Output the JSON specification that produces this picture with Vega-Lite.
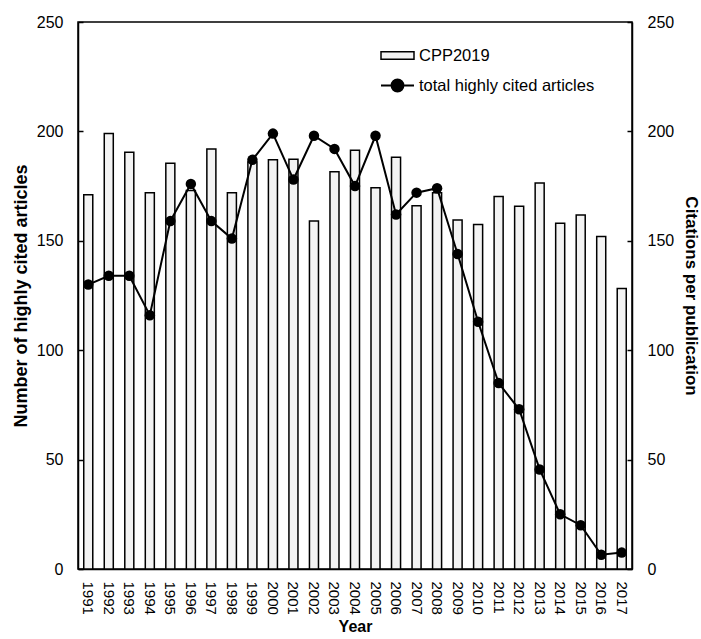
{
  "$schema": "https://vega.github.io/schema/vega-lite/v6.json",
  "width": 554,
  "height": 547,
  "autosize": {"type": "none"},
  "padding": {"left": 78, "top": 22, "right": 69, "bottom": 70},
  "background": "white",
  "config": {
    "font": "Liberation Sans",
    "view": {"stroke": "black", "strokeWidth": 1.5},
    "axis": {
      "grid": false,
      "domainColor": "black",
      "domainWidth": 1.5,
      "tickColor": "black",
      "tickWidth": 1.5,
      "labelColor": "black",
      "titleColor": "black",
      "labelFont": "Liberation Sans",
      "titleFont": "Liberation Sans",
      "labelFontSize": 16,
      "titleFontSize": 18,
      "titleFontWeight": "bold"
    },
    "legend": {
      "labelFont": "Liberation Sans",
      "labelFontSize": 16.5,
      "labelColor": "black",
      "labelLimit": 0,
      "padding": 0
    }
  },
  "data": {
    "values": [
      {"year": "1991", "cpp": 171, "total": 130},
      {"year": "1992", "cpp": 199, "total": 134},
      {"year": "1993", "cpp": 190.5, "total": 134},
      {"year": "1994", "cpp": 172, "total": 116},
      {"year": "1995", "cpp": 185.5, "total": 159},
      {"year": "1996", "cpp": 173, "total": 176},
      {"year": "1997", "cpp": 192, "total": 159},
      {"year": "1998", "cpp": 172, "total": 151},
      {"year": "1999", "cpp": 186, "total": 187},
      {"year": "2000", "cpp": 187, "total": 199},
      {"year": "2001", "cpp": 187.3, "total": 178},
      {"year": "2002", "cpp": 159, "total": 198},
      {"year": "2003", "cpp": 181.6, "total": 192},
      {"year": "2004", "cpp": 191.4, "total": 175},
      {"year": "2005", "cpp": 174.3, "total": 198},
      {"year": "2006", "cpp": 188.2, "total": 162},
      {"year": "2007", "cpp": 166, "total": 172},
      {"year": "2008", "cpp": 172, "total": 174},
      {"year": "2009", "cpp": 159.5, "total": 144},
      {"year": "2010", "cpp": 157.5, "total": 113},
      {"year": "2011", "cpp": 170.2, "total": 85},
      {"year": "2012", "cpp": 165.8, "total": 73},
      {"year": "2013", "cpp": 176.4, "total": 45.5},
      {"year": "2014", "cpp": 158, "total": 25},
      {"year": "2015", "cpp": 161.8, "total": 20},
      {"year": "2016", "cpp": 152, "total": 6.5},
      {"year": "2017", "cpp": 128.2, "total": 7.5}
    ]
  },
  "encoding": {
    "x": {
      "field": "year",
      "type": "ordinal",
      "scale": {"paddingInner": 0.56, "paddingOuter": 0.28},
      "axis": {
        "title": "Year",
        "labelAngle": 90,
        "labelFontSize": 15,
        "ticks": false,
        "labelPadding": 12,
        "titleFontSize": 16,
        "titlePadding": 4
      }
    }
  },
  "layer": [
    {
      "mark": {"type": "bar", "stroke": "black", "strokeWidth": 1.5},
      "encoding": {
        "y": {
          "field": "cpp",
          "type": "quantitative",
          "scale": {"domain": [0, 250], "nice": false},
          "axis": {
            "orient": "right",
            "title": "Citations per publication",
            "values": [0, 50, 100, 150, 200, 250],
            "tickSize": -5,
            "labelPadding": 20,
            "titleFontSize": 17,
            "titlePadding": 8
          }
        },
        "fill": {
          "datum": "CPP2019",
          "type": "nominal",
          "scale": {"range": ["#f3f3f3"]},
          "legend": {
            "title": null,
            "orient": "none",
            "legendX": 302,
            "legendY": 16,
            "symbolType": "M-1,-0.22H1V0.22H-1Z",
            "symbolSize": 1089,
            "symbolStrokeColor": "black",
            "symbolStrokeWidth": 1.5,
            "labelOffset": 4
          }
        }
      }
    },
    {
      "mark": {"type": "line", "strokeWidth": 2},
      "encoding": {
        "y": {
          "field": "total",
          "type": "quantitative",
          "scale": {"domain": [0, 250], "nice": false},
          "axis": {
            "orient": "left",
            "title": "Number of highly cited articles",
            "values": [0, 50, 100, 150, 200, 250],
            "tickSize": -5,
            "labelPadding": 20,
            "titlePadding": 6
          }
        },
        "stroke": {
          "datum": "total highly cited articles",
          "type": "nominal",
          "scale": {"range": ["black"]},
          "legend": {
            "title": null,
            "orient": "none",
            "legendX": 302,
            "legendY": 46,
            "symbolType": "M-1,0H1M-0.36,0A0.36,0.36 0 1,0 0.36,0A0.36,0.36 0 1,0 -0.36,0Z",
            "symbolSize": 1089,
            "symbolFillColor": "black",
            "symbolStrokeColor": "black",
            "symbolStrokeWidth": 2,
            "labelOffset": 4
          }
        }
      }
    },
    {
      "mark": {"type": "point", "filled": true, "color": "black", "size": 110, "opacity": 1},
      "encoding": {
        "y": {"field": "total", "type": "quantitative", "scale": {"domain": [0, 250], "nice": false}, "axis": null}
      }
    }
  ],
  "resolve": {"scale": {"y": "independent"}}
}
